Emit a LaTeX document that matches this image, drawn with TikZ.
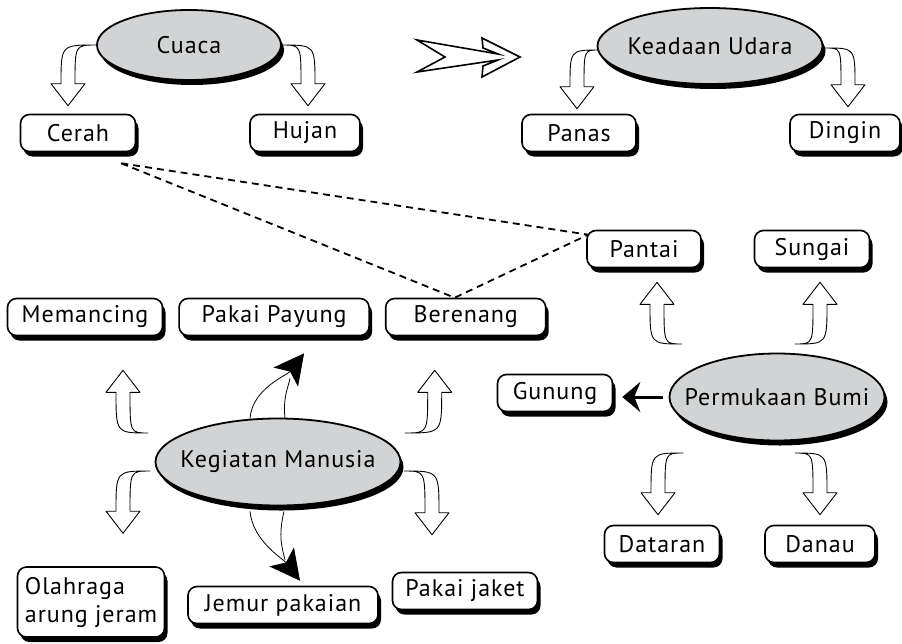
\documentclass[tikz,border=0pt]{standalone}
\usepackage{fontspec}
\newfontfamily\mapfont[LetterSpace=4]{PT Sans}
\usepackage{tikz}
\usetikzlibrary{arrows.meta,calc,positioning,shapes.geometric,shadows}
\definecolor{ovalgray}{HTML}{D1D3D4}
% hollow arrow: tail, tip, signed head length
\newcommand{\hollowarrow}[3]{%
  \filldraw[hollow] let \p1=(#1), \p2=(#2) in
    (\p1) .. controls (\x2-7pt,\y1) .. (\x2-7pt,\y2#3)
    -- (\x2-17pt,\y2#3) -- (\p2) -- (\x2+17pt,\y2#3) -- (\x2+7pt,\y2#3)
    .. controls (\x2+7pt,\y1) .. (\p1) -- cycle;}

\begin{document}
\begin{tikzpicture}[x=1pt,y=-1pt,font=\mapfont\fontsize{24}{28}\selectfont,
  item/.style={draw,line width=1.6pt,rounded corners=9pt,fill=white,align=center,inner sep=2pt,
               minimum height=37pt,minimum width=#1,
               general shadow={fill=black,shadow xshift=3pt,shadow yshift=-5pt}},
  item/.default=115pt,
  topic/.style 2 args={ellipse,draw,line width=1.8pt,fill=ovalgray,inner xsep=-20pt,inner ysep=0pt,
               minimum width=#1,minimum height=#2,
               general shadow={fill=black,shadow xshift=3pt,shadow yshift=-5pt}},
  hollow/.style={line width=0.9pt,fill=white,line join=round},
  tie/.style={line width=1.8pt,dash pattern=on 7pt off 5pt},
  solid arrow/.style={line width=0.8pt,-{Stealth[length=30pt,width=31pt,inset=7pt]}}]
  \useasboundingbox (0,0) rectangle (902,643);

  % weather
  \node[topic={184pt}{70pt}] (cuaca) at (189,45) {Cuaca};
  \node[item] (cerah) at (78,133) {Cerah};
  \node[item=110pt] (hujan) at (305,133) {Hujan};
  \node[topic={225pt}{76pt}] (udara) at (710,46) {Keadaan Udara};
  \node[item=114pt] (panas) at (579,133) {Panas};
  \node[item=110pt] (dingin) at (845,133) {Dingin};
  \draw[line width=1.6pt,line join=miter] (417,40) -- (498,54) -- (483,48) -- (482,38) -- (520,57)
    -- (482,77) -- (483,66) -- (498,60) -- (417,72) -- (445,57) -- cycle;

  % activities
  \node[item=155pt] (memancing) at (85,317) {Memancing};
  \node[item=190pt,right=15pt of memancing] (payung) {Pakai Payung};
  \node[item=160pt,right=15pt of payung] (berenang) {Berenang};
  \node[topic={245pt}{87pt}] (keg) at (278,462) {Kegiatan Manusia};
  \node[item=147pt,minimum height=70pt,align=left] (olahraga) at (91,602) {Olahraga\\arung jeram};
  \node[item=190pt] (jemur) at (283,605) {Jemur pakaian};
  \node[item=145pt] (jaket) at (465,591) {Pakai jaket};

  % landforms
  \node[topic={215pt}{87pt}] (bumi) at (777,397) {Permukaan Bumi};
  \node[item=114pt] (pantai) at (644,249) {Pantai};
  \node[item] (sungai) at (812,249) {Sungai};
  \node[item] (gunung) at (555,393) {Gunung};
  \node[item] (dataran) at (662,544) {Dataran};
  \node[item=110pt] (danau) at (820,544) {Danau};

  % hollow arrows
  \hollowarrow{cuaca.west}{$(cerah.north)+(-10,-8)$}{+22pt}
  \hollowarrow{cuaca.east}{$(hujan.north)+(3,-8)$}{+22pt}
  \hollowarrow{$(udara.west)+(2,4)$}{$(panas.north)+(-2,-5)$}{+22pt}
  \hollowarrow{$(udara.east)+(2,2)$}{$(dingin.north)+(3,-7)$}{+22pt}
  \hollowarrow{$(keg.center)+(-130,-29)$}{$(memancing.south)+(38,34)$}{-22pt}
  \hollowarrow{$(keg.center)+(127,-29)$}{$(berenang.south)+(-31,34)$}{-22pt}
  \hollowarrow{$(keg.center)+(-128,9)$}{$(olahraga.north)+(32,-33)$}{+22pt}
  \hollowarrow{$(keg.center)+(126,9)$}{$(jaket.north)+(-33,-37)$}{+22pt}
  \hollowarrow{$(bumi.center)+(-95,-53)$}{$(pantai.south)+(13,14)$}{-22pt}
  \hollowarrow{$(bumi.center)+(18,-53)$}{$(sungai.south)+(8,14)$}{-22pt}
  \hollowarrow{$(bumi.center)+(-94,56)$}{$(dataran.north)+(-4,-10)$}{+22pt}
  \hollowarrow{$(bumi.center)+(18,56)$}{$(danau.north)+(0,-10)$}{+22pt}

  % solid arrows
  \coordinate (pay1) at ($(keg.north)+(-28,1)$);
  \coordinate (pay2) at ($(keg.north)+(7,1)$);
  \draw[solid arrow] (pay1) .. controls +(2,-30) and +(-17,22) .. ($(payung.south)+(30,17)$);
  \draw[line width=0.8pt] (pay2) .. controls +(-2,-20) and +(-3,12) .. ($(payung.south)+(16,42)$);
  \coordinate (jem1) at ($(keg.south)+(-28,5)$);
  \coordinate (jem2) at ($(keg.south)+(6,5)$);
  \draw[solid arrow] (jem1) .. controls +(3,30) and +(-17,-22) .. ($(jemur.north)+(17,-5)$);
  \draw[line width=0.8pt] (jem2) .. controls +(-6,25) and +(-3,-12) .. ($(jemur.north)+(2,-26)$);
  \draw[line width=3pt,-{Stealth[length=18pt,width=30pt,inset=6pt]},shorten <=6pt,shorten >=9pt]
    (bumi.west) -- (gunung.east |- bumi.west);

  % dashed links
  \coordinate (cdash) at ($(cerah.south east)+(-15,11)$);
  \coordinate (bdash) at ($(berenang.north)+(-11,0)$);
  \coordinate (pdash) at ($(pantai.north west)+(2,5)$);
  \draw[tie] (cdash) -- (pdash);
  \draw[tie] (cdash) -- (bdash) -- (pdash);
\end{tikzpicture}
\end{document}
